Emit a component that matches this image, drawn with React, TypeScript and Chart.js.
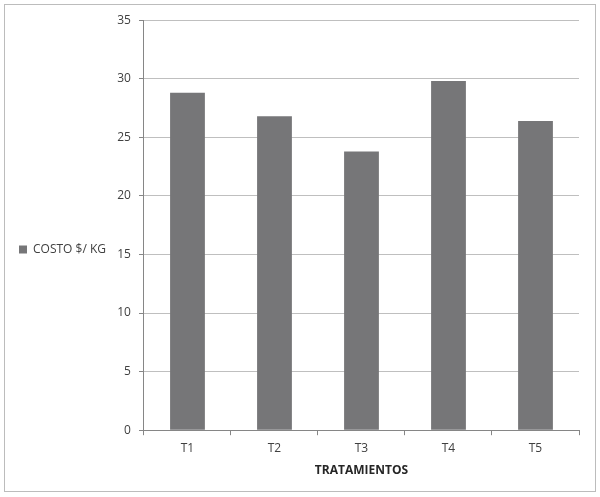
import { useEffect, useRef } from "react"
import { Chart, registerables } from "chart.js"

Chart.register(...registerables)

const categories = ["T1", "T2", "T3", "T4", "T5"]
const costValues = [28.8, 26.8, 23.8, 29.8, 26.4]
const seriesLabel = "COSTO $/ KG"
const axisTitle = "TRATAMIENTOS"

const FONT = "'Open Sans', 'Noto Sans', sans-serif"

export default function App() {
  const chartRef = useRef<HTMLCanvasElement>(null)
  const chartInstance = useRef<Chart | null>(null)

  useEffect(() => {
    if (!chartRef.current) return
    if (chartInstance.current) chartInstance.current.destroy()
    const ctx = chartRef.current.getContext("2d")
    if (!ctx) return

    chartInstance.current = new Chart(ctx, {
      type: "bar",
      data: {
        labels: categories,
        datasets: [
          {
            label: seriesLabel,
            data: costValues,
            backgroundColor: "#767678",
            borderWidth: 0,
            categoryPercentage: 0.8,
            barPercentage: 0.5,
          },
        ],
      },
      options: {
        animation: false,
        responsive: true,
        maintainAspectRatio: false,
        layout: { padding: { top: 12, right: 16, bottom: 9, left: 6 } },
        scales: {
          x: {
            grid: {
              drawOnChartArea: false,
              drawTicks: true,
              tickLength: 5,
              color: "#868686",
            },
            border: { color: "#868686" },
            ticks: { color: "#404040", font: { family: FONT, size: 12 }, padding: 6 },
            title: {
              display: true,
              text: axisTitle,
              color: "#262626",
              font: { family: FONT, size: 12, weight: "bold" },
              padding: { top: 2 },
            },
          },
          y: {
            min: 0,
            max: 35,
            ticks: {
              stepSize: 5,
              color: "#404040",
              font: { family: FONT, size: 12 },
              padding: 8,
            },
            grid: { color: "#bfbfbf", tickLength: 5, tickColor: "#868686" },
            border: { color: "#868686" },
            afterFit: (scale) => {
              scale.width = 28
            },
          },
        },
        plugins: {
          legend: {
            position: "left",
            labels: {
              boxWidth: 8,
              boxHeight: 8,
              color: "#404040",
              font: { family: FONT, size: 12 },
              padding: 8,
            },
          },
          tooltip: { enabled: false },
        },
      },
    })

    return () => {
      if (chartInstance.current) {
        chartInstance.current.destroy()
        chartInstance.current = null
      }
    }
  }, [])

  return (
    <div style={{ position: "absolute", left: 0, top: 0, width: 600, height: 497, background: "#fff" }}>
      <div
        style={{
          position: "absolute",
          left: 4,
          top: 4,
          width: 590,
          height: 486,
          border: "1px solid #bcbcbc",
        }}
      >
        <canvas ref={chartRef} />
      </div>
    </div>
  )
}
